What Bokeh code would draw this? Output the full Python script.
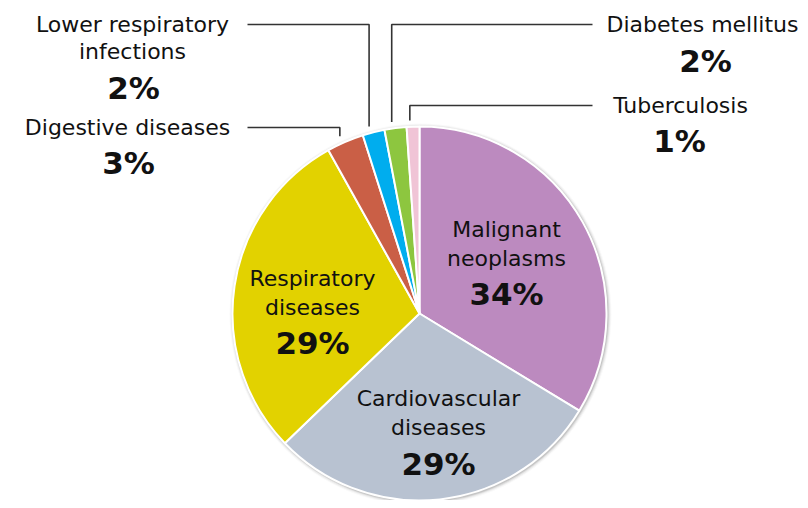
import math
from bokeh.plotting import figure
from bokeh.models import Range1d, ColumnDataSource
from bokeh.core.properties import value
from bokeh.embed import file_html
from bokeh.resources import INLINE

# ---- data ----
categories = ["Malignant neoplasms", "Cardiovascular diseases", "Respiratory diseases",
              "Digestive diseases", "Lower respiratory infections", "Diabetes mellitus",
              "Tuberculosis"]
values = [33.7, 29.1, 29.1, 3.2, 1.9, 1.9, 1.1]
pct_labels = ["34%", "29%", "29%", "3%", "2%", "2%", "1%"]
colors = ["#BC8ABF", "#B8C2D1", "#E2D200", "#CA5F46", "#00ADEE", "#8DC63F", "#F0C4D6"]

# ---- layout (screen pixel coordinates of the 808x508 page) ----
W, H = 808, 508
CX, CY, R = 419, 313, 187
def Y(y):
    return H - y

# label layout: name lines, x, first line y, line step, pct x, pct y
label_layout = [
    (["Malignant", "neoplasms"], 506, 229, 29, 506, 293),
    (["Cardiovascular", "diseases"], 438, 398, 29, 438, 463),
    (["Respiratory", "diseases"], 312, 278, 29, 312, 342),
    (["Digestive diseases"], 127, 127, 29, 128, 162),
    (["Lower respiratory", "infections"], 132, 24, 27, 133, 87),
    (["Diabetes mellitus"], 702, 24, 29, 705, 60),
    (["Tuberculosis"], 680, 105, 29, 679, 140),
]
# leader lines: slice index -> (elbow y, end x of horizontal)
leaders = {3: (127, 247), 4: (24, 247), 5: (24, 592), 6: (105, 592)}

p = figure(width=W - 8, height=H - 8, output_backend="svg", toolbar_location=None,
           x_range=Range1d(0, W - 8), y_range=Range1d(8, H), min_border=0)
p.axis.visible = False
p.grid.visible = False
p.outline_line_color = None
p.background_fill_color = "white"

# soft shadow
for i, a in enumerate([0.10, 0.07, 0.045, 0.025]):
    p.circle(x=[CX + 1], y=[Y(CY) - 1], radius=R + 1 + i, fill_color="#000000",
             fill_alpha=a, line_color=None)

total = sum(values)
cum = 0.0
starts, ends, mids = [], [], []
for v in values:
    a0 = math.pi / 2 - 2 * math.pi * cum / total
    cum += v
    a1 = math.pi / 2 - 2 * math.pi * cum / total
    starts.append(a1)
    ends.append(a0)
    mids.append((a0 + a1) / 2)

src = ColumnDataSource(dict(start=starts, end=ends, color=colors, name=categories))
p.wedge(x=CX, y=Y(CY), radius=R, start_angle="start", end_angle="end",
        direction="anticlock", fill_color="color", line_color="white", line_width=2,
        source=src)

# leader lines
for idx, (ey, hx) in leaders.items():
    m = mids[idx]
    x0 = CX + 193 * math.cos(m) - 3
    y0 = CY - 193 * math.sin(m)
    p.line(x=[x0, x0, hx], y=[Y(y0), Y(ey), Y(ey)], line_color="#333333", line_width=1.6)

font = value("DejaVu Sans")
for i, (lines, lx, ly, step, px, py) in enumerate(label_layout):
    for j, t in enumerate(lines):
        p.text(x=[lx], y=[Y(ly + j * step)], text=[t], text_font=font,
               text_font_size="22px", text_align="center", text_baseline="middle",
               text_color="#111111")
    p.text(x=[px], y=[Y(py)], text=[pct_labels[i]], text_font=font,
           text_font_size="31px", text_font_style="bold", text_align="center",
           text_baseline="middle", text_color="#111111")

open("out.html", "w").write(file_html(p, INLINE))
